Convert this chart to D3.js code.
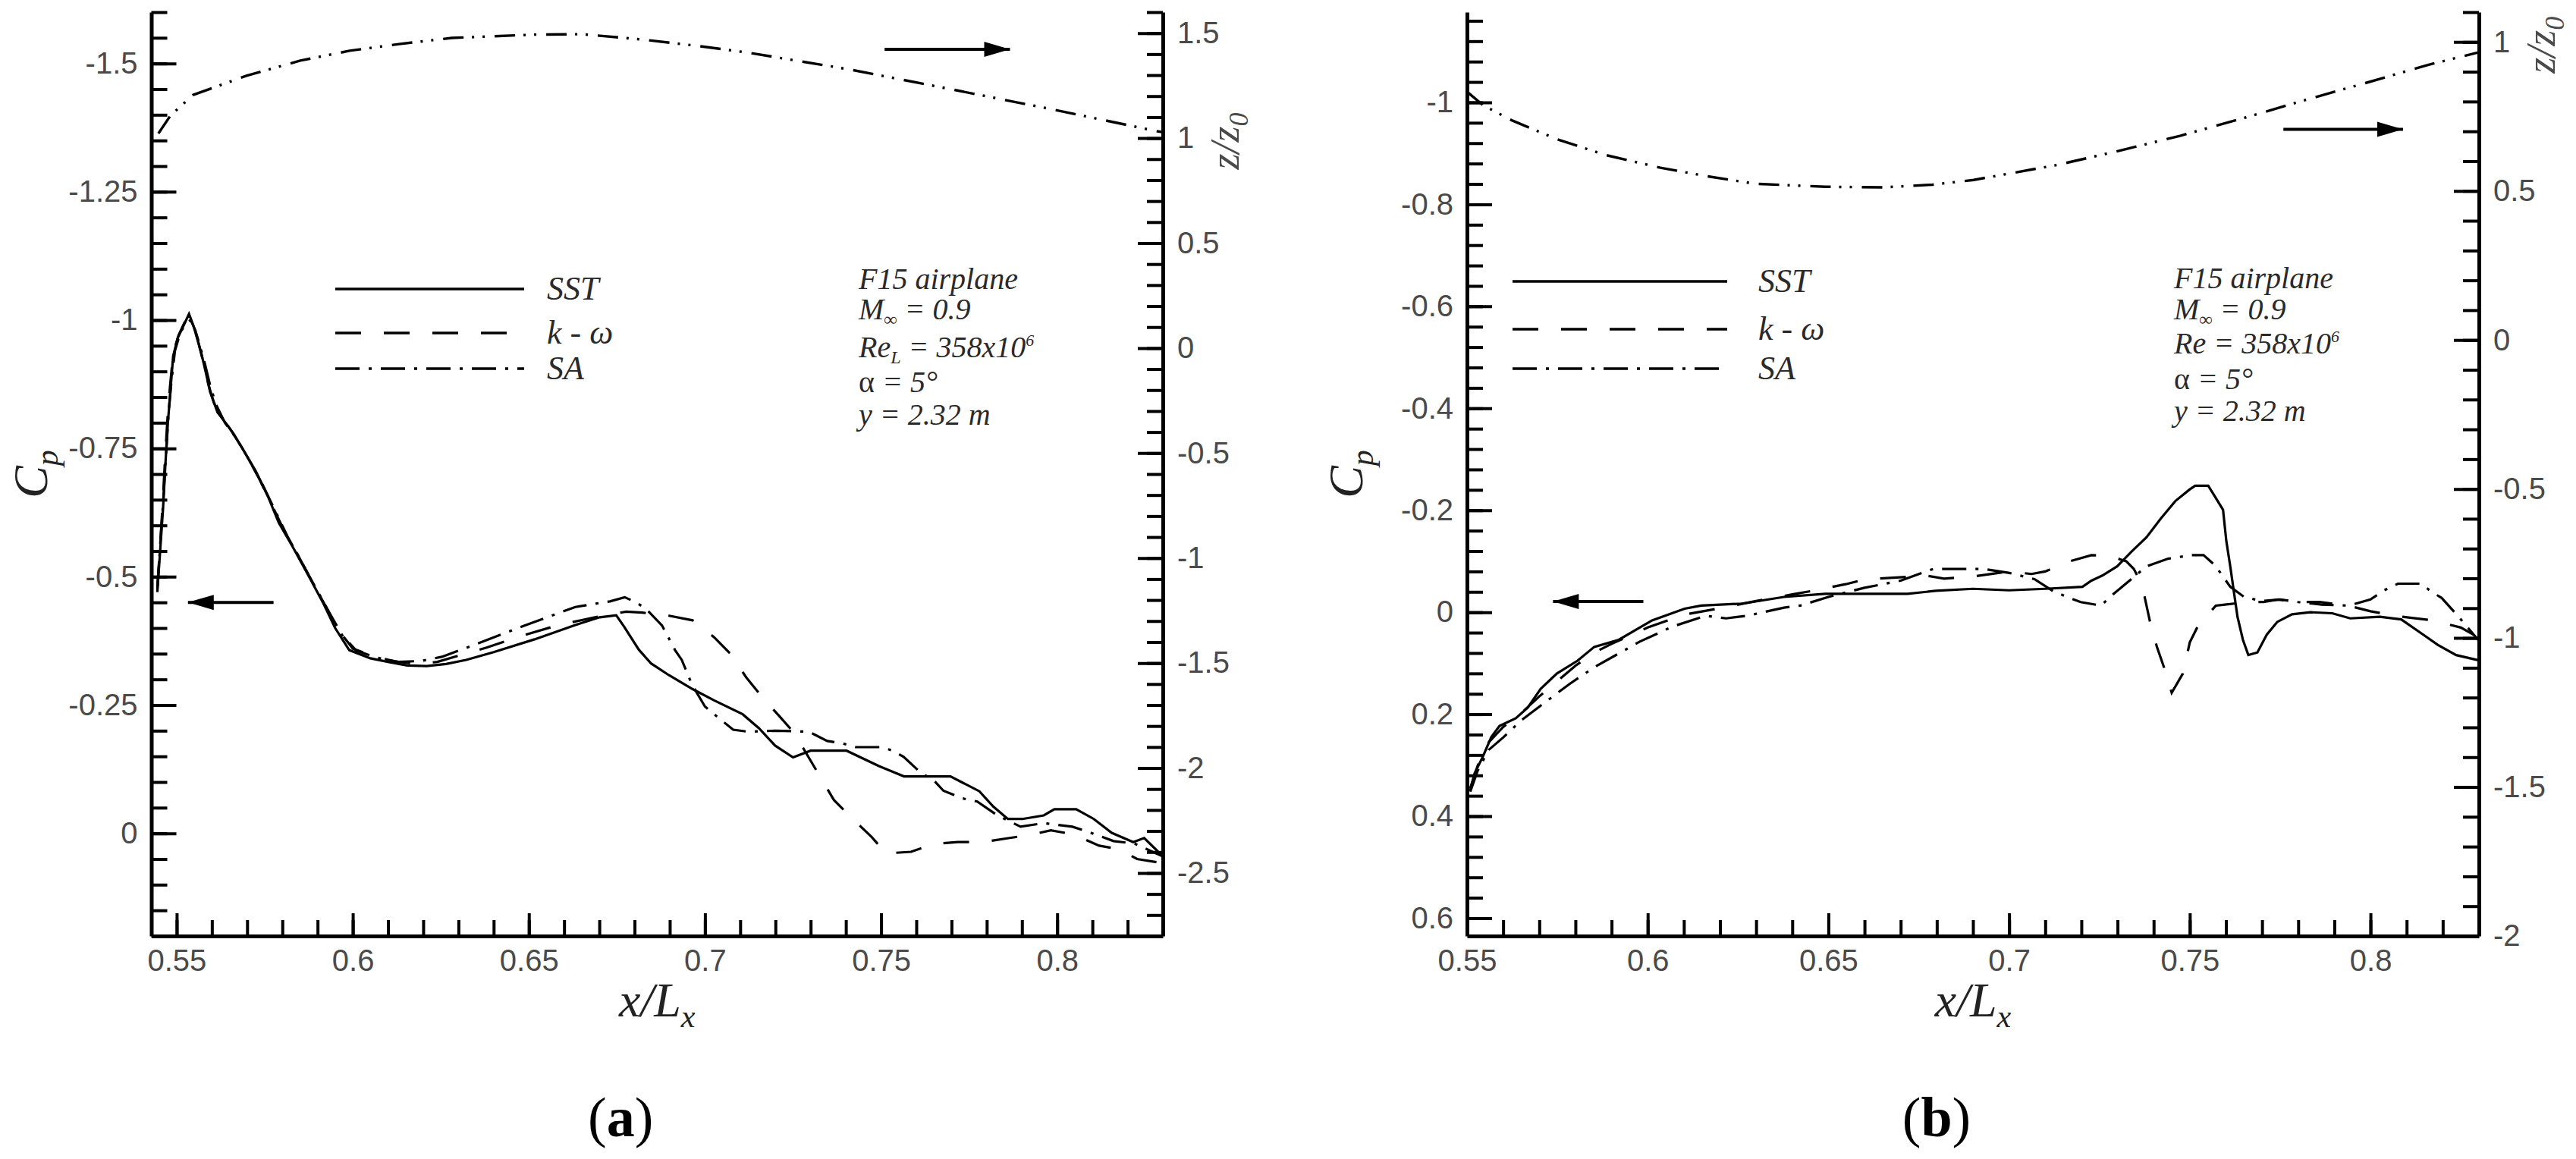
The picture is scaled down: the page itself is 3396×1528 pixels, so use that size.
<!DOCTYPE html>
<html>
<head>
<meta charset="utf-8">
<script src="https://cdn.jsdelivr.net/npm/d3@7"></script>
<style>
body { margin: 0; background: #fff; }
svg { display: block; }
</style>
</head>
<body>
<svg id="chart" width="3396" height="1528"></svg>
<script>
// tick labels
var xTicks = [0.55, 0.6, 0.65, 0.7, 0.75, 0.8];
var cpTicksA = [-1.5, -1.25, -1, -0.75, -0.5, -0.25, 0];
var zTicksA = [1.5, 1, 0.5, 0, -0.5, -1, -1.5, -2, -2.5];
var cpTicksB = [-1, -0.8, -0.6, -0.4, -0.2, 0, 0.2, 0.4, 0.6];
var zTicksB = [1, 0.5, 0, -0.5, -1, -1.5, -2];

var legendNames = ["SST", "k - \u03c9", "SA"];

// panel (a): Cp along x/Lx, [x, Cp]
var sstA = [[0.5445,-0.47],[0.5452,-0.54],[0.5461,-0.63],[0.5468,-0.72],[0.5475,-0.80],[0.5482,-0.86],[0.549,-0.93],
  [0.5503,-0.965],[0.552,-0.99],[0.5535,-1.012],[0.5547,-0.99],[0.5558,-0.965],[0.557,-0.935],[0.5582,-0.90],
  [0.5595,-0.86],[0.5616,-0.82],[0.565,-0.79],[0.5685,-0.752],[0.5725,-0.705],[0.576,-0.655],[0.579,-0.605],
  [0.5828,-0.56],[0.5872,-0.505],[0.5915,-0.45],[0.595,-0.40],[0.599,-0.357],[0.605,-0.341],[0.61,-0.334],
  [0.6155,-0.327],[0.621,-0.326],[0.6265,-0.330],[0.6322,-0.338],[0.64,-0.353],[0.6516,-0.378],[0.6632,-0.406],
  [0.6701,-0.421],[0.6748,-0.425],[0.6771,-0.402],[0.6812,-0.358],[0.6847,-0.331],[0.6898,-0.308],[0.6965,-0.281],
  [0.7026,-0.259],[0.7107,-0.232],[0.7153,-0.205],[0.7199,-0.171],[0.725,-0.148],[0.73,-0.161],[0.7402,-0.161],
  [0.7494,-0.131],[0.7565,-0.111],[0.7697,-0.111],[0.7779,-0.082],[0.7819,-0.052],[0.786,-0.028],[0.7901,-0.028],
  [0.7962,-0.035],[0.7992,-0.047],[0.8054,-0.047],[0.8104,-0.028],[0.8155,-0.001],[0.8216,0.017],[0.8247,0.009],
  [0.8287,0.036],[0.83,0.045]];
var kwA = [[0.5445,-0.48],[0.5452,-0.55],[0.546,-0.64],[0.5467,-0.73],[0.5474,-0.81],[0.5481,-0.87],[0.549,-0.935],
  [0.5505,-0.97],[0.5522,-0.995],[0.5537,-1.005],[0.555,-0.985],[0.5562,-0.955],[0.5575,-0.92],[0.559,-0.875],
  [0.5605,-0.84],[0.5628,-0.81],[0.5662,-0.778],[0.5695,-0.74],[0.5735,-0.69],[0.577,-0.64],[0.5805,-0.59],
  [0.5842,-0.545],[0.5885,-0.49],[0.5925,-0.44],[0.596,-0.395],[0.6,-0.36],[0.606,-0.345],[0.612,-0.335],
  [0.618,-0.33],[0.624,-0.334],[0.63,-0.346],[0.638,-0.362],[0.648,-0.385],[0.658,-0.405],[0.668,-0.42],
  [0.6776,-0.432],[0.6822,-0.43],[0.6898,-0.424],[0.6965,-0.415],[0.7026,-0.382],[0.7072,-0.35],[0.7117,-0.304],
  [0.7164,-0.264],[0.7213,-0.227],[0.7254,-0.195],[0.731,-0.13],[0.7366,-0.065],[0.7412,-0.033],[0.7473,0.007],
  [0.7514,0.039],[0.7585,0.036],[0.7646,0.021],[0.7718,0.017],[0.7789,0.017],[0.7865,0.009],[0.7931,0.002],
  [0.7982,-0.006],[0.8046,0.002],[0.8119,0.024],[0.8176,0.031],[0.8227,0.05],[0.83,0.058]];
var saA = [[0.5445,-0.475],[0.5453,-0.56],[0.5462,-0.65],[0.547,-0.74],[0.5477,-0.82],[0.5485,-0.88],[0.5495,-0.94],
  [0.551,-0.975],[0.5527,-0.995],[0.554,-1.0],[0.5553,-0.98],[0.5566,-0.95],[0.558,-0.915],[0.5596,-0.87],
  [0.5612,-0.835],[0.5637,-0.80],[0.5672,-0.767],[0.5705,-0.728],[0.5745,-0.678],[0.578,-0.628],[0.5815,-0.578],
  [0.5852,-0.532],[0.5895,-0.478],[0.5935,-0.428],[0.597,-0.386],[0.601,-0.356],[0.607,-0.342],[0.613,-0.334],
  [0.6195,-0.336],[0.6253,-0.344],[0.6352,-0.369],[0.6492,-0.406],[0.6632,-0.441],[0.673,-0.452],[0.6772,-0.46],
  [0.6805,-0.45],[0.6833,-0.437],[0.6878,-0.405],[0.6915,-0.357],[0.6934,-0.338],[0.6963,-0.29],[0.70,-0.247],
  [0.7026,-0.232],[0.708,-0.202],[0.7122,-0.198],[0.72,-0.2],[0.7295,-0.198],[0.7347,-0.18],[0.7392,-0.175],
  [0.7428,-0.168],[0.7499,-0.168],[0.7534,-0.161],[0.7564,-0.149],[0.7616,-0.116],[0.7646,-0.106],[0.7677,-0.083],
  [0.7732,-0.068],[0.7773,-0.062],[0.783,-0.035],[0.7896,-0.013],[0.7962,-0.02],[0.8043,-0.013],[0.81,0.0],
  [0.816,0.015],[0.822,0.02],[0.83,0.045]];
// panel (a): z/z0 on the right axis, [x, z/z0]
var zA = [[0.5448,1.022],[0.5483,1.109],[0.5547,1.206],[0.5698,1.297],[0.5851,1.369],[0.5991,1.416],[0.6131,1.448],
  [0.6281,1.477],[0.6516,1.493],[0.665,1.495],[0.682,1.47],[0.6975,1.44],[0.7119,1.408],[0.7411,1.327],
  [0.7704,1.231],[0.7995,1.134],[0.8274,1.036],[0.83,1.028]];

// panel (b)
var sstB = [[0.5509,0.349],[0.5521,0.316],[0.5544,0.283],[0.5567,0.245],[0.559,0.223],[0.5635,0.208],[0.5668,0.187],
  [0.5704,0.15],[0.5749,0.12],[0.5806,0.095],[0.5852,0.068],[0.592,0.054],[0.6012,0.016],[0.6102,-0.007],
  [0.6148,-0.013],[0.6262,-0.017],[0.6377,-0.03],[0.6491,-0.036],[0.6719,-0.036],[0.6797,-0.042],[0.69,-0.046],
  [0.70,-0.043],[0.71,-0.046],[0.7203,-0.05],[0.7228,-0.062],[0.7258,-0.072],[0.7299,-0.09],[0.7339,-0.119],
  [0.738,-0.147],[0.742,-0.184],[0.746,-0.218],[0.75,-0.241],[0.7515,-0.248],[0.7551,-0.248],[0.7566,-0.231],
  [0.7592,-0.201],[0.7601,-0.14],[0.7612,-0.09],[0.7622,-0.04],[0.7632,0.009],[0.7647,0.054],[0.7662,0.084],
  [0.7687,0.079],[0.7713,0.044],[0.7742,0.019],[0.7783,0.004],[0.7834,0.0],[0.7894,0.002],[0.7944,0.012],
  [0.8026,0.009],[0.8085,0.014],[0.8146,0.044],[0.8186,0.064],[0.8237,0.084],[0.8298,0.094]];
var kwB = [[0.5509,0.345],[0.553,0.30],[0.556,0.255],[0.56,0.225],[0.565,0.198],[0.57,0.165],[0.575,0.135],
  [0.58,0.105],[0.585,0.08],[0.59,0.062],[0.60,0.03],[0.61,0.005],[0.62,-0.008],[0.63,-0.022],[0.64,-0.035],
  [0.6456,-0.042],[0.6548,-0.055],[0.6605,-0.065],[0.6688,-0.068],[0.677,-0.072],[0.682,-0.066],[0.69,-0.07],
  [0.70,-0.08],[0.7062,-0.075],[0.71,-0.08],[0.7168,-0.1],[0.7228,-0.112],[0.728,-0.11],[0.7324,-0.1],
  [0.7345,-0.085],[0.736,-0.065],[0.7375,-0.03],[0.739,0.019],[0.7409,0.068],[0.743,0.111],[0.745,0.158],
  [0.7481,0.12],[0.75,0.059],[0.7521,0.029],[0.7572,-0.013],[0.7597,-0.015],[0.7662,-0.02],[0.7704,-0.02],
  [0.7744,-0.025],[0.7803,-0.02],[0.7859,-0.02],[0.7944,-0.012],[0.80,-0.002],[0.8076,0.008],[0.8172,0.016],
  [0.825,0.03],[0.83,0.05]];
var saB = [[0.5509,0.352],[0.553,0.31],[0.556,0.27],[0.5601,0.245],[0.565,0.212],[0.5704,0.183],[0.5783,0.141],
  [0.5852,0.108],[0.5977,0.058],[0.6069,0.028],[0.616,0.007],[0.6217,0.012],[0.6275,0.007],[0.6377,-0.009],
  [0.6422,-0.013],[0.65,-0.03],[0.66,-0.048],[0.67,-0.062],[0.679,-0.085],[0.6855,-0.085],[0.693,-0.085],
  [0.7001,-0.077],[0.707,-0.065],[0.7125,-0.04],[0.7168,-0.028],[0.7198,-0.02],[0.7254,-0.013],[0.7289,-0.036],
  [0.733,-0.06],[0.738,-0.09],[0.744,-0.105],[0.7506,-0.112],[0.7538,-0.112],[0.757,-0.092],[0.7612,-0.05],
  [0.765,-0.03],[0.77,-0.022],[0.775,-0.025],[0.78,-0.02],[0.7865,-0.015],[0.794,-0.013],[0.80,-0.025],
  [0.8035,-0.042],[0.8076,-0.056],[0.8141,-0.056],[0.8167,-0.041],[0.8197,-0.028],[0.8244,0.009],[0.8275,0.035],
  [0.8305,0.06]];
var zB = [[0.55,0.833],[0.5544,0.788],[0.5624,0.737],[0.5748,0.674],[0.5885,0.62],[0.6035,0.578],[0.6161,0.55],
  [0.6298,0.524],[0.6492,0.514],[0.665,0.512],[0.6788,0.521],[0.6902,0.537],[0.7132,0.587],[0.7302,0.634],
  [0.7473,0.685],[0.7645,0.743],[0.7816,0.804],[0.7986,0.862],[0.8159,0.923],[0.8296,0.964]];

var svg = d3.select("#chart");
svg.append("rect").attr("width", 3396).attr("height", 1528).attr("fill", "#fff");

var serif = "'Liberation Serif', 'Times New Roman', serif";
var sans = "'Liberation Sans', Arial, sans-serif";
var TOP = 16, BOTTOM = 1234;

var dashes = { sst: null, kw: "34,30", sa: "32,12,4,12", z: "27,11,3,11,3,13" };

var panels = [
  { id: "a", left: 199.5, right: 1533, xDom: [0.5428, 0.83], cpDom: [-1.6, 0.2], zDom: [1.6, -2.8],
    cpTicks: cpTicksA, cpStep: 0.05, zTicks: zTicksA, zStep: 0.1,
    series: [sstA, kwA, saA], z: zA,
    legend: { x0: 442, x1: 691, tx: 721, ys: [381, 439, 486] },
    note: { x: 1132, ys: [381, 421, 471, 517, 560], re: "L" },
    arrowL: [0.5532, 0.5775, -0.45], arrowR: [0.751, 0.7866, 1.423] },
  { id: "b", left: 1934, right: 3268, xDom: [0.55, 0.83], cpDom: [-1.177, 0.635], zDom: [1.1, -2],
    cpTicks: cpTicksB, cpStep: 0.04, zTicks: zTicksB, zStep: 0.1,
    series: [sstB, kwB, saB], z: zB,
    legend: { x0: 1994, x1: 2277, tx: 2318, ys: [371, 434, 486] },
    note: { x: 2866, ys: [380, 421, 466, 513, 555], re: null },
    arrowL: [0.5738, 0.5988, -0.021], arrowR: [0.7759, 0.809, 0.707] }
];

function fmt(d) { var s = String(+d.toFixed(2)); return s === "-0" ? "0" : s; }

function minorTicks(dom, step) {
  var lo = Math.min(dom[0], dom[1]), hi = Math.max(dom[0], dom[1]);
  return d3.range(Math.ceil(lo / step - 1e-6), Math.floor(hi / step + 1e-6) + 1).map(function (i) { return +(i * step).toFixed(4); });
}

function styleAxis(g, fs) {
  g.selectAll(".domain").attr("stroke", "#000").attr("stroke-width", 5);
  g.selectAll(".tick line").attr("stroke", "#000").attr("stroke-width", 4);
  g.selectAll(".tick text").attr("font-family", sans).attr("font-size", fs).attr("fill", "#4a4a4a");
}

panels.forEach(function (p) {
  var x = d3.scaleLinear().domain(p.xDom).range([p.left, p.right]);
  var yCp = d3.scaleLinear().domain(p.cpDom).range([TOP, BOTTOM]);
  var yZ = d3.scaleLinear().domain(p.zDom).range([TOP, BOTTOM]);
  var g = svg.append("g").attr("class", "panel-" + p.id);

  // minor ticks
  g.append("g").attr("transform", "translate(" + p.left + ",0)")
    .call(d3.axisLeft(yCp).tickValues(minorTicks(p.cpDom, p.cpStep)).tickSize(-21).tickFormat(""))
    .call(function (s) { s.select(".domain").remove(); styleAxis(s, 40); });
  g.append("g").attr("transform", "translate(" + p.right + ",0)")
    .call(d3.axisRight(yZ).tickValues(minorTicks(p.zDom, p.zStep)).tickSize(-21).tickFormat(""))
    .call(function (s) { s.select(".domain").remove(); styleAxis(s, 40); });
  g.append("g").attr("transform", "translate(0," + BOTTOM + ")")
    .call(d3.axisBottom(x).tickValues(minorTicks(p.xDom, 0.01)).tickSize(-21).tickFormat(""))
    .call(function (s) { s.select(".domain").remove(); styleAxis(s, 40); });

  // major ticks + labels
  g.append("g").attr("transform", "translate(" + p.left + ",0)")
    .call(d3.axisLeft(yCp).tickValues(p.cpTicks).tickSize(-33).tickSizeOuter(0).tickPadding(18).tickFormat(fmt))
    .call(function (s) { styleAxis(s, 40); });
  g.append("g").attr("transform", "translate(" + p.right + ",0)")
    .call(d3.axisRight(yZ).tickValues(p.zTicks).tickSize(-33).tickSizeOuter(0).tickPadding(19).tickFormat(fmt))
    .call(function (s) { styleAxis(s, 40); });
  g.append("g").attr("transform", "translate(0," + BOTTOM + ")")
    .call(d3.axisBottom(x).tickValues(xTicks).tickSize(-30).tickSizeOuter(0).tickPadding(18).tickFormat(fmt))
    .call(function (s) { styleAxis(s, 40); });

  // curves
  var clipId = "clip-" + p.id;
  g.append("clipPath").attr("id", clipId).append("rect")
    .attr("x", p.left).attr("y", TOP - 4).attr("width", p.right - p.left).attr("height", BOTTOM - TOP + 4);
  var plot = g.append("g").attr("clip-path", "url(#" + clipId + ")");
  var lineCp = d3.line().x(function (d) { return x(d[0]); }).y(function (d) { return yCp(d[1]); });
  var lineZ = d3.line().x(function (d) { return x(d[0]); }).y(function (d) { return yZ(d[1]); });
  var keys = ["sst", "kw", "sa"];
  p.series.forEach(function (s, i) {
    plot.append("path").datum(s).attr("d", lineCp).attr("fill", "none").attr("stroke", "#000")
      .attr("stroke-width", 3.2).attr("stroke-dasharray", dashes[keys[i]]);
  });
  plot.append("path").datum(p.z).attr("d", lineZ).attr("fill", "none").attr("stroke", "#000")
    .attr("stroke-width", 3.4).attr("stroke-dasharray", dashes.z);

  // arrows
  function arrow(x0, x1, y, dir) {
    g.append("line").attr("x1", x0).attr("x2", x1).attr("y1", y).attr("y2", y)
      .attr("stroke", "#000").attr("stroke-width", 4);
    var tip = dir < 0 ? x0 : x1, back = tip - dir * 34;
    g.append("polygon").attr("points", [[tip, y], [back, y - 10], [back, y + 10]].map(function (q) { return q.join(","); }).join(" "))
      .attr("fill", "#000");
  }
  arrow(x(p.arrowL[0]), x(p.arrowL[1]), yCp(p.arrowL[2]), -1);
  arrow(x(p.arrowR[0]), x(p.arrowR[1]), yZ(p.arrowR[2]), 1);

  // legend
  keys.forEach(function (k, i) {
    var ly = p.legend.ys[i];
    g.append("line").attr("x1", p.legend.x0).attr("x2", p.legend.x1).attr("y1", ly).attr("y2", ly)
      .attr("stroke", "#000").attr("stroke-width", 3.6).attr("stroke-dasharray", dashes[k]);
    g.append("text").attr("x", p.legend.tx).attr("y", ly + 14)
      .attr("font-family", serif).attr("font-style", "italic").attr("font-size", 44).attr("fill", "#2a2a2a")
      .text(legendNames[i]);
  });

  // annotation block
  var nx = p.note.x, ny = p.note.ys;
  function noteLine(y) {
    return g.append("text").attr("x", nx).attr("y", y).attr("font-family", serif).attr("font-style", "italic")
      .attr("font-size", 40).attr("fill", "#2a2a2a");
  }
  noteLine(ny[0]).text("F15 airplane");
  var t1 = noteLine(ny[1]);
  t1.append("tspan").text("M");
  t1.append("tspan").attr("font-size", 24).attr("dy", 8).text("\u221e");
  t1.append("tspan").attr("dy", -8).text(" = 0.9");
  var t2 = noteLine(ny[2]);
  t2.append("tspan").text("Re");
  if (p.note.re) {
    t2.append("tspan").attr("font-size", 24).attr("dy", 8).text(p.note.re);
    t2.append("tspan").attr("dy", -8).text(" = 358x10");
  } else {
    t2.append("tspan").text(" = 358x10");
  }
  t2.append("tspan").attr("font-size", 22).attr("dy", -15).text("6");
  var t3 = noteLine(ny[3]);
  t3.append("tspan").attr("font-style", "normal").text("\u03b1");
  t3.append("tspan").text(" = 5\u00b0");
  noteLine(ny[4]).text("y = 2.32 m");

  // axis titles
  var cx = (p.left + p.right) / 2;
  var xt = g.append("text").attr("x", cx).attr("y", 1340).attr("text-anchor", "middle")
    .attr("font-family", serif).attr("font-style", "italic").attr("font-size", 64).attr("fill", "#222");
  xt.append("tspan").text("x/L");
  xt.append("tspan").attr("font-size", 42).attr("dy", 14).text("x");

  var yt = g.append("text").attr("transform", "translate(" + (p.left - 138) + ",625) rotate(-90)")
    .attr("text-anchor", "middle").attr("font-family", serif).attr("font-style", "italic")
    .attr("font-size", 64).attr("fill", "#222");
  yt.append("tspan").text("C");
  yt.append("tspan").attr("font-size", 42).attr("dy", 14).text("p");

  var zt = g.append("text").attr("transform", "translate(" + (p.right + 100) + "," + (yZ(1) + 4) + ") rotate(-90)")
    .attr("text-anchor", "middle").attr("font-family", serif).attr("font-style", "italic")
    .attr("font-size", 54).attr("fill", "#4a4a4a");
  zt.append("tspan").text("z/z");
  zt.append("tspan").attr("font-size", 36).attr("dy", 12).text("0");

  // sub-figure tag
  var tag = g.append("text").attr("x", cx - 48).attr("y", 1498).attr("text-anchor", "middle")
    .attr("font-family", serif).attr("font-size", 74).attr("fill", "#000");
  tag.append("tspan").text("(");
  tag.append("tspan").attr("font-weight", "bold").text(p.id);
  tag.append("tspan").text(")");
});
</script>
</body>
</html>
